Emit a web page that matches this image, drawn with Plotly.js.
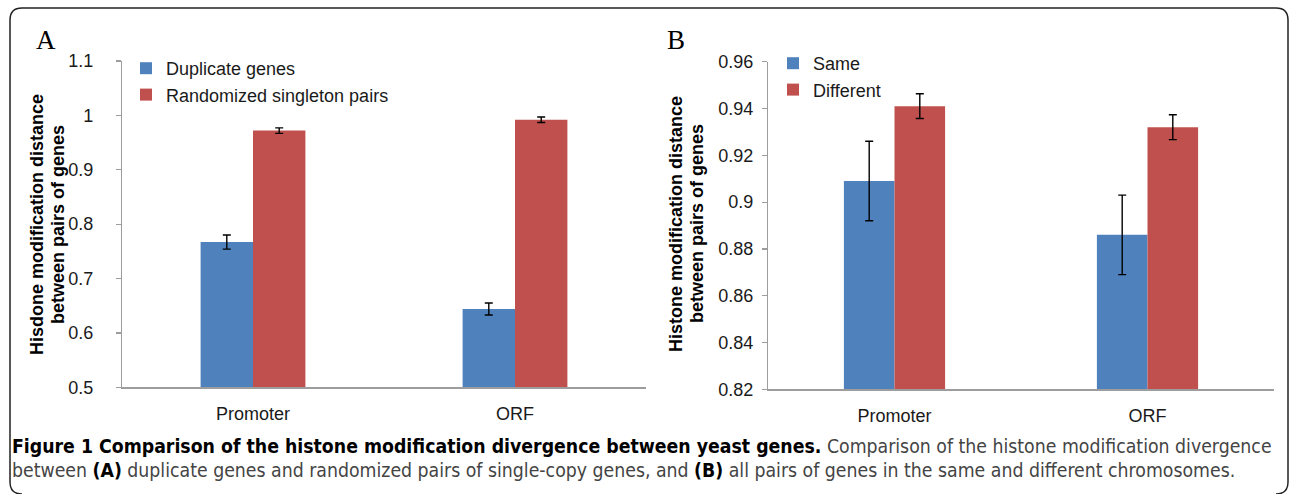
<!DOCTYPE html>
<html>
<head>
<meta charset="utf-8">
<script src="https://cdn.plot.ly/plotly-3.0.1.min.js"></script>
<style>
  html, body { margin: 0; padding: 0; background: #ffffff; }
  #chart { width: 1290px; height: 494px; }
</style>
</head>
<body>
<div id="chart"></div>
<script>
// ---- Data ----
const categories = ["Promoter", "ORF"];

// Panel A
const seriesA1Name = "Duplicate genes";
const seriesA1 = [0.767, 0.644];
const seriesA1Err = [0.013, 0.011];
const seriesA2Name = "Randomized singleton pairs";
const seriesA2 = [0.972, 0.992];
const seriesA2Err = [0.005, 0.005];

// Panel B
const seriesB1Name = "Same";
const seriesB1 = [0.909, 0.886];
const seriesB1Err = [0.017, 0.017];
const seriesB2Name = "Different";
const seriesB2 = [0.941, 0.932];
const seriesB2Err = [0.0053, 0.0053];

const ticksA = [0.5, 0.6, 0.7, 0.8, 0.9, 1, 1.1];
const ticksB = [0.82, 0.84, 0.86, 0.88, 0.9, 0.92, 0.94, 0.96];

// ---- Layout helpers (page is 1290 x 494, zero margins) ----
const W = 1290, H = 494;
const px = v => v / W;
const py = v => 1 - v / H;

const BLUE = "#4F81BD";
const RED = "#C0504D";
const AXIS = "#9d9d9d";
const FONT = "Liberation Sans, Arial, sans-serif";
const CAPFONT = "DejaVu Sans Condensed, Liberation Sans Narrow, Roboto, sans-serif";

function barTrace(name, y, err, color, xa, ya, legend) {
  return {
    type: "bar",
    name: name,
    x: categories,
    y: y,
    xaxis: xa,
    yaxis: ya,
    legend: legend,
    marker: { color: color, line: { width: 0 } },
    error_y: { type: "data", array: err, visible: true, color: "#000000", thickness: 1.4, width: 4 },
    hoverinfo: "y"
  };
}

const data = [
  barTrace(seriesA1Name, seriesA1, seriesA1Err, BLUE, "x", "y", "legend"),
  barTrace(seriesA2Name, seriesA2, seriesA2Err, RED, "x", "y", "legend"),
  barTrace(seriesB1Name, seriesB1, seriesB1Err, BLUE, "x2", "y2", "legend2"),
  barTrace(seriesB2Name, seriesB2, seriesB2Err, RED, "x2", "y2", "legend2")
];

const tickFont = { family: FONT, size: 18, color: "#1a1a1a" };

function textAnn(text, x, y, opts) {
  return Object.assign({
    text: text, xref: "paper", yref: "paper", x: px(x), y: py(y),
    xanchor: "center", yanchor: "middle", showarrow: false,
    font: { family: FONT, size: 18, color: "#000" }
  }, opts || {});
}

const layout = {
  width: W,
  height: H,
  margin: { l: 0, r: 0, t: 0, b: 0, pad: 0 },
  paper_bgcolor: "#ffffff",
  plot_bgcolor: "#ffffff",
  barmode: "group",
  bargap: 0.6,
  bargroupgap: 0,
  showlegend: true,
  font: { family: FONT, size: 18, color: "#1a1a1a" },
  xaxis: {
    domain: [px(122), px(646)],
    anchor: "y",
    showline: true, linecolor: AXIS, linewidth: 1.2,
    ticks: "", showgrid: false, zeroline: false,
    tickfont: tickFont,
    ticklabelstandoff: 10,
    fixedrange: true
  },
  yaxis: {
    domain: [py(387.3), py(61)],
    anchor: "x",
    range: [0.5, 1.1],
    tickvals: ticksA,
    showline: true, linecolor: AXIS, linewidth: 1.2,
    ticks: "outside", ticklen: 5, tickcolor: AXIS, tickwidth: 1.2,
    showgrid: false, zeroline: false,
    tickfont: tickFont,
    ticklabelstandoff: 19,
    fixedrange: true
  },
  xaxis2: {
    domain: [px(768), px(1274)],
    anchor: "y2",
    showline: true, linecolor: AXIS, linewidth: 1.2,
    ticks: "", showgrid: false, zeroline: false,
    tickfont: tickFont,
    ticklabelstandoff: 10,
    fixedrange: true
  },
  yaxis2: {
    domain: [py(389.3), py(61.7)],
    anchor: "x2",
    range: [0.82, 0.96],
    tickvals: ticksB,
    showline: true, linecolor: AXIS, linewidth: 1.2,
    ticks: "outside", ticklen: 5, tickcolor: AXIS, tickwidth: 1.2,
    showgrid: false, zeroline: false,
    tickfont: tickFont,
    ticklabelstandoff: 5,
    fixedrange: true
  },
  legend: {
    x: px(126), y: py(50), xanchor: "left", yanchor: "top",
    bgcolor: "rgba(0,0,0,0)", borderwidth: 0,
    font: { family: FONT, size: 18, color: "#1a1a1a" },
    tracegroupgap: 3,
    traceorder: "normal"
  },
  legend2: {
    x: px(773), y: py(45), xanchor: "left", yanchor: "top",
    bgcolor: "rgba(0,0,0,0)", borderwidth: 0,
    font: { family: FONT, size: 18, color: "#1a1a1a" },
    tracegroupgap: 7,
    traceorder: "normal"
  },
  annotations: [
    textAnn("A", 46, 40, { font: { family: "Liberation Serif, Times New Roman, serif", size: 27, color: "#000" } }),
    textAnn("B", 676, 40, { font: { family: "Liberation Serif, Times New Roman, serif", size: 27, color: "#000" } }),
    textAnn("<b>Hisdone modification distance</b>", 37, 225, { textangle: -90 }),
    textAnn("<b>between pairs of genes</b>", 58, 225, { textangle: -90 }),
    textAnn("<b>Histone modification distance</b>", 676, 224, { textangle: -90 }),
    textAnn("<b>between pairs of genes</b>", 697, 224, { textangle: -90 }),
    { text: "<b>Figure 1 Comparison of the histone modification divergence between yeast genes.</b> " +
            "<span style='color:#444444'>Comparison of the histone modification divergence</span>",
      xref: "paper", yref: "paper", x: px(10), y: py(446), xanchor: "left", yanchor: "middle", showarrow: false,
      font: { family: CAPFONT, size: 19.3, color: "#000" } },
    { text: "<span style='color:#444444'>between </span><b>(A)</b><span style='color:#444444'> duplicate genes and randomized pairs of single-copy genes, and </span><b>(B)</b><span style='color:#444444'> all pairs of genes in the same and different chromosomes.</span>",
      xref: "paper", yref: "paper", x: px(10), y: py(470), xanchor: "left", yanchor: "middle", showarrow: false,
      font: { family: CAPFONT, size: 19.3, color: "#000" } }
  ],
  shapes: [
    { type: "path", xref: "paper", yref: "paper",
      path: "M" + px(22) + "," + py(494) +
            " Q" + px(10) + "," + py(494) + " " + px(10) + "," + py(482) +
            " L" + px(10) + "," + py(20) +
            " Q" + px(10) + "," + py(8) + " " + px(22) + "," + py(8) +
            " L" + px(1276) + "," + py(8) +
            " Q" + px(1288) + "," + py(8) + " " + px(1288) + "," + py(20) +
            " L" + px(1288) + "," + py(482) +
            " Q" + px(1288) + "," + py(494) + " " + px(1276) + "," + py(494),
      line: { color: "#222222", width: 1.5 } }
  ]
};

Plotly.newPlot("chart", data, layout, { displayModeBar: false, staticPlot: true });
</script>
</body>
</html>
